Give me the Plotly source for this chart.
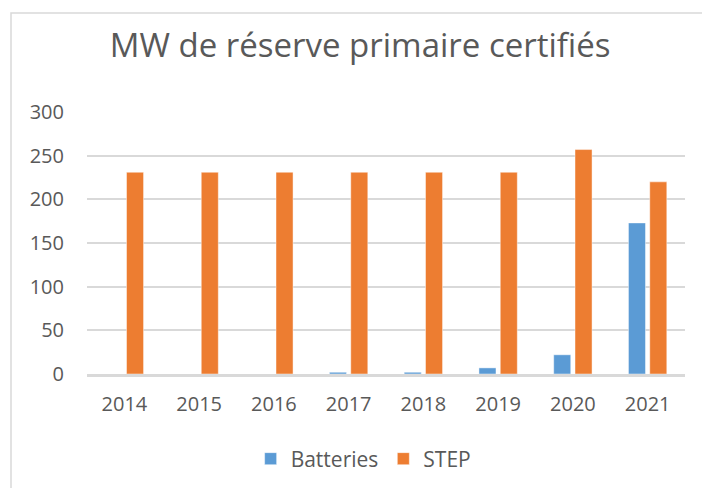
import plotly.graph_objects as go

years = ["2014", "2015", "2016", "2017", "2018", "2019", "2020", "2021"]
batteries = [0, 0, 0, 2, 2, 7, 22, 173]
step = [231, 231, 231, 231, 231, 231, 257, 220]
y_ticks = [0, 50, 100, 150, 200, 250, 300]

font_color = "#595959"
font_family = "Open Sans, Liberation Sans, sans-serif"

fig = go.Figure()
fig.add_trace(go.Bar(name="Batteries", x=years, y=batteries,
                     marker=dict(color="#5B9BD5", line=dict(color="rgba(255,255,255,0.45)", width=1))))
fig.add_trace(go.Bar(name="STEP", x=years, y=step,
                     marker=dict(color="#ED7D31", line=dict(color="rgba(255,255,255,0.45)", width=1))))

fig.update_layout(
    template="none",
    width=702, height=488,
    margin=dict(l=87, r=17, t=112, b=114, autoexpand=False),
    paper_bgcolor="white", plot_bgcolor="white",
    barmode="group", bargap=0.43, bargroupgap=0.2,
    font=dict(family=font_family, color=font_color, size=20),
    title=dict(text="MW de réserve primaire certifiés",
               font=dict(family=font_family, size=33, color=font_color),
               x=0.513, xanchor="center", xref="container",
               y=1 - 45 / 488, yanchor="middle", yref="container"),
    legend=dict(orientation="h", x=0.518, xanchor="center", xref="container",
                y=1 - 459 / 488, yanchor="middle", yref="container",
                font=dict(size=21, color=font_color), itemwidth=30,
                traceorder="normal"),
    showlegend=True,
)
fig.update_yaxes(range=[0, 300], tickvals=y_ticks, showgrid=True, gridcolor="#D9D9D9",
                 gridwidth=1.5, zeroline=False, showline=False, ticks="",
                 automargin=False, ticklabelstandoff=22,
                 tickfont=dict(size=20, color=font_color))
fig.update_xaxes(showline=True, linecolor="#D9D9D9", linewidth=2.5, ticks="",
                 showgrid=False, automargin=False, ticklabelstandoff=10,
                 tickfont=dict(size=20, color=font_color))

# outer chart frame (left and top edges visible)
fig.add_shape(type="rect", xref="paper", yref="paper",
              x0=(11 - 87) / 598, x1=2.0, y0=-1.0, y1=(374 - 13) / 262,
              line=dict(color="#D9D9D9", width=1.5), fillcolor="rgba(0,0,0,0)", layer="below")

fig.write_html("out.html", config={"displayModeBar": False},
               post_script="document.body.style.margin='0';document.body.style.overflow='hidden';")
